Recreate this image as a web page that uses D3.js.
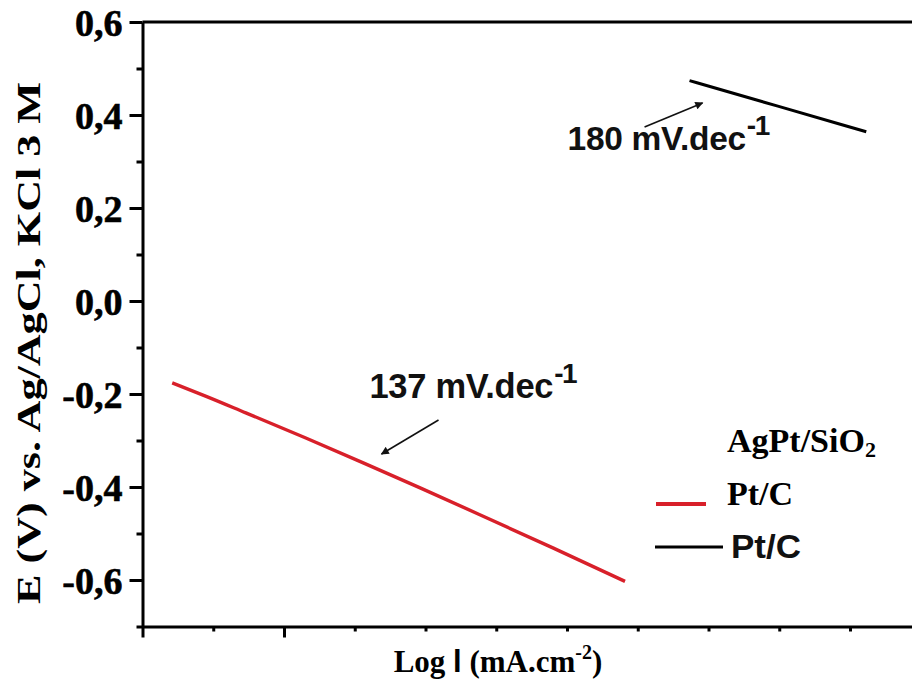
<!DOCTYPE html>
<html>
<head>
<meta charset="utf-8">
<script src="https://cdn.jsdelivr.net/npm/d3@7"></script>
<style>
  html, body { margin: 0; padding: 0; background: #fff; }
  svg { display: block; }
</style>
</head>
<body>
<svg id="chart" width="912" height="682"></svg>
<script>
// ---------- data (x = log I, arbitrary decades; y = E in V) ----------
const agptX = [-3.79, -3.55, -3.27, -2.85, -2.44, -2.03, -1.62, -1.10, -0.59];
const agptY = [-0.176, -0.205, -0.2405, -0.294, -0.348, -0.403, -0.459, -0.531, -0.603];
const ptcX = [-0.134, 0.49, 1.115];
const ptcY = [0.474, 0.419, 0.364];

const yMajorTicks = [0.6, 0.4, 0.2, 0.0, -0.2, -0.4, -0.6];
const yMinorTicks = [0.5, 0.3, 0.1, -0.1, -0.3, -0.5, -0.7];
const xMajorTicks = [-4, -3];
const xMinorTicks = [-3.5, -2.5, -2, -1.5, -1, -0.5, 0, 0.5, 1, 1.5];

const seriesNames = ["AgPt/SiO2", "Pt/C"];
const slopeLabels = ["137 mV.dec", "180 mV.dec"];
// annotation anchor points in data units: [textX, textY, arrowTailX, arrowTailY, arrowHeadX, arrowHeadY]
const ann137 = [-2.396, -0.209, -1.908, -0.256, -2.311, -0.329];
const ann180 = [-0.996, 0.325, -0.452, 0.374, -0.042, 0.426];

(function () {
// ---------- layout ----------
const svg = d3.select("#chart");
const W = 912, H = 682;
const mLeft = 142.5, mTop = 22, mBottom = 626.5;
const x = d3.scaleLinear().domain([-4, 1.5]).range([mLeft, mLeft + 5.5 * 141.5]);
const y = d3.scaleLinear().domain([-0.7, 0.6]).range([mBottom, mTop]);
const serif = "'Liberation Serif', 'Times New Roman', serif";
const sans = "'Liberation Sans', Arial, sans-serif";

svg.append("rect").attr("width", W).attr("height", H).attr("fill", "#fff");

const fmt = d => d3.format(".1f")(d).replace(".", ",").replace("−", "-");

// y axis minor
svg.append("g").attr("transform", `translate(${mLeft},0)`)
  .call(d3.axisLeft(y).tickValues(yMinorTicks).tickSize(6).tickFormat(""))
  .call(g => g.select(".domain").remove())
  .call(g => g.selectAll("line").attr("stroke", "#000").attr("stroke-width", 3));

// y axis major
svg.append("g").attr("transform", `translate(${mLeft},0)`)
  .call(d3.axisLeft(y).tickValues(yMajorTicks).tickSize(13).tickSizeOuter(0).tickPadding(7).tickFormat(fmt))
  .call(g => g.select(".domain").attr("stroke", "#000").attr("stroke-width", 3))
  .call(g => g.selectAll("line").attr("stroke", "#000").attr("stroke-width", 3))
  .call(g => g.selectAll("text")
    .attr("font-family", serif)
    .attr("font-weight", "bold").attr("font-size", 38).attr("fill", "#000")
    .attr("stroke", "#000").attr("stroke-width", 0.6)
    .attr("dy", "0.36em"));

// x axis minor
svg.append("g").attr("transform", `translate(0,${mBottom})`)
  .call(d3.axisBottom(x).tickValues(xMinorTicks).tickSize(5).tickFormat(""))
  .call(g => g.select(".domain").remove())
  .call(g => g.selectAll("line").attr("stroke", "#000").attr("stroke-width", 3));

// x axis major
svg.append("g").attr("transform", `translate(0,${mBottom})`)
  .call(d3.axisBottom(x).tickValues(xMajorTicks).tickSize(11).tickSizeOuter(0).tickFormat(""))
  .call(g => g.select(".domain").attr("stroke", "#000").attr("stroke-width", 3))
  .call(g => g.selectAll("line").attr("stroke", "#000").attr("stroke-width", 3));

// top frame line
svg.append("line")
  .attr("x1", mLeft).attr("x2", x.range()[1])
  .attr("y1", y(0.6)).attr("y2", y(0.6))
  .attr("stroke", "#000").attr("stroke-width", 3);

// series lines
const line = d3.line().x(d => x(d[0])).y(d => y(d[1])).curve(d3.curveMonotoneX);
svg.append("path").datum(d3.zip(agptX, agptY))
  .attr("d", line).attr("fill", "none").attr("stroke", "#d8202a").attr("stroke-width", 3.4)
  .attr("stroke-linejoin", "round");
svg.append("path").datum(d3.zip(ptcX, ptcY))
  .attr("d", line).attr("fill", "none").attr("stroke", "#000").attr("stroke-width", 3)
  .attr("stroke-linejoin", "round");

// arrows
const defs = svg.append("defs");
defs.append("marker").attr("id", "ah").attr("viewBox", "0 0 10 10")
  .attr("refX", 9).attr("refY", 5).attr("markerWidth", 13).attr("markerHeight", 8)
  .attr("markerUnits", "userSpaceOnUse").attr("orient", "auto")
  .append("path").attr("d", "M0,0 L10,5 L0,10 Z").attr("fill", "#111");

function annotate(a, label, size, supSize, supRise) {
  svg.append("line")
    .attr("x1", x(a[2])).attr("y1", y(a[3]))
    .attr("x2", x(a[4])).attr("y2", y(a[5]))
    .attr("stroke", "#111").attr("stroke-width", 1.6)
    .attr("marker-end", "url(#ah)");
  const t = svg.append("text")
    .attr("x", x(a[0])).attr("y", y(a[1]))
    .attr("font-family", sans)
    .attr("font-weight", "bold").attr("font-size", size).attr("fill", "#111")
    .attr("letter-spacing", -0.3);
  t.append("tspan").text(label);
  t.append("tspan").attr("font-size", supSize).attr("dy", -supRise)
    .attr("dx", 1).attr("letter-spacing", -1.5).text("-1");
}
annotate(ann137, slopeLabels[0], 34.5, 28, 15);
annotate(ann180, slopeLabels[1], 33.5, 28, 15);

// legend
const lg = svg.append("g");
const t1 = lg.append("text").attr("x", 727).attr("y", 452)
  .attr("font-family", serif).attr("font-weight", "bold").attr("font-size", 34).attr("fill", "#000");
t1.append("tspan").text("AgPt/SiO");
t1.append("tspan").attr("font-size", 22).attr("dy", 5).text("2");
lg.append("line").attr("x1", 656).attr("x2", 706).attr("y1", 504).attr("y2", 504)
  .attr("stroke", "#d8202a").attr("stroke-width", 4);
lg.append("text").attr("x", 727).attr("y", 505)
  .attr("font-family", serif).attr("font-weight", "bold").attr("font-size", 34).attr("fill", "#000")
  .text(seriesNames[1]);
lg.append("line").attr("x1", 655).attr("x2", 723).attr("y1", 547).attr("y2", 547)
  .attr("stroke", "#000").attr("stroke-width", 3);
lg.append("text").attr("x", 731).attr("y", 558)
  .attr("font-family", sans).attr("font-weight", "bold")
  .attr("font-size", 33).attr("fill", "#111")
  .attr("textLength", 70).attr("lengthAdjust", "spacingAndGlyphs")
  .text(seriesNames[1]);

// axis titles
const xt = svg.append("text").attr("x", 498).attr("y", 672).attr("text-anchor", "middle")
  .attr("font-family", serif).attr("font-weight", "bold").attr("font-size", 31).attr("fill", "#000");
xt.append("tspan").text("Log ");
xt.append("tspan").attr("font-family", sans).text("l");
xt.append("tspan").text(" (mA.cm");
xt.append("tspan").attr("font-size", 20).attr("dy", -13).text("-2");
xt.append("tspan").attr("dy", 13).text(")");

svg.append("text")
  .attr("transform", `translate(40,343) rotate(-90)`)
  .attr("text-anchor", "middle")
  .attr("font-family", serif).attr("font-weight", "bold").attr("font-size", 34).attr("fill", "#000")
  .attr("textLength", 522).attr("lengthAdjust", "spacingAndGlyphs")
  .text("E (V) vs. Ag/AgCl, KCl 3 M");
})();
</script>
</body>
</html>
